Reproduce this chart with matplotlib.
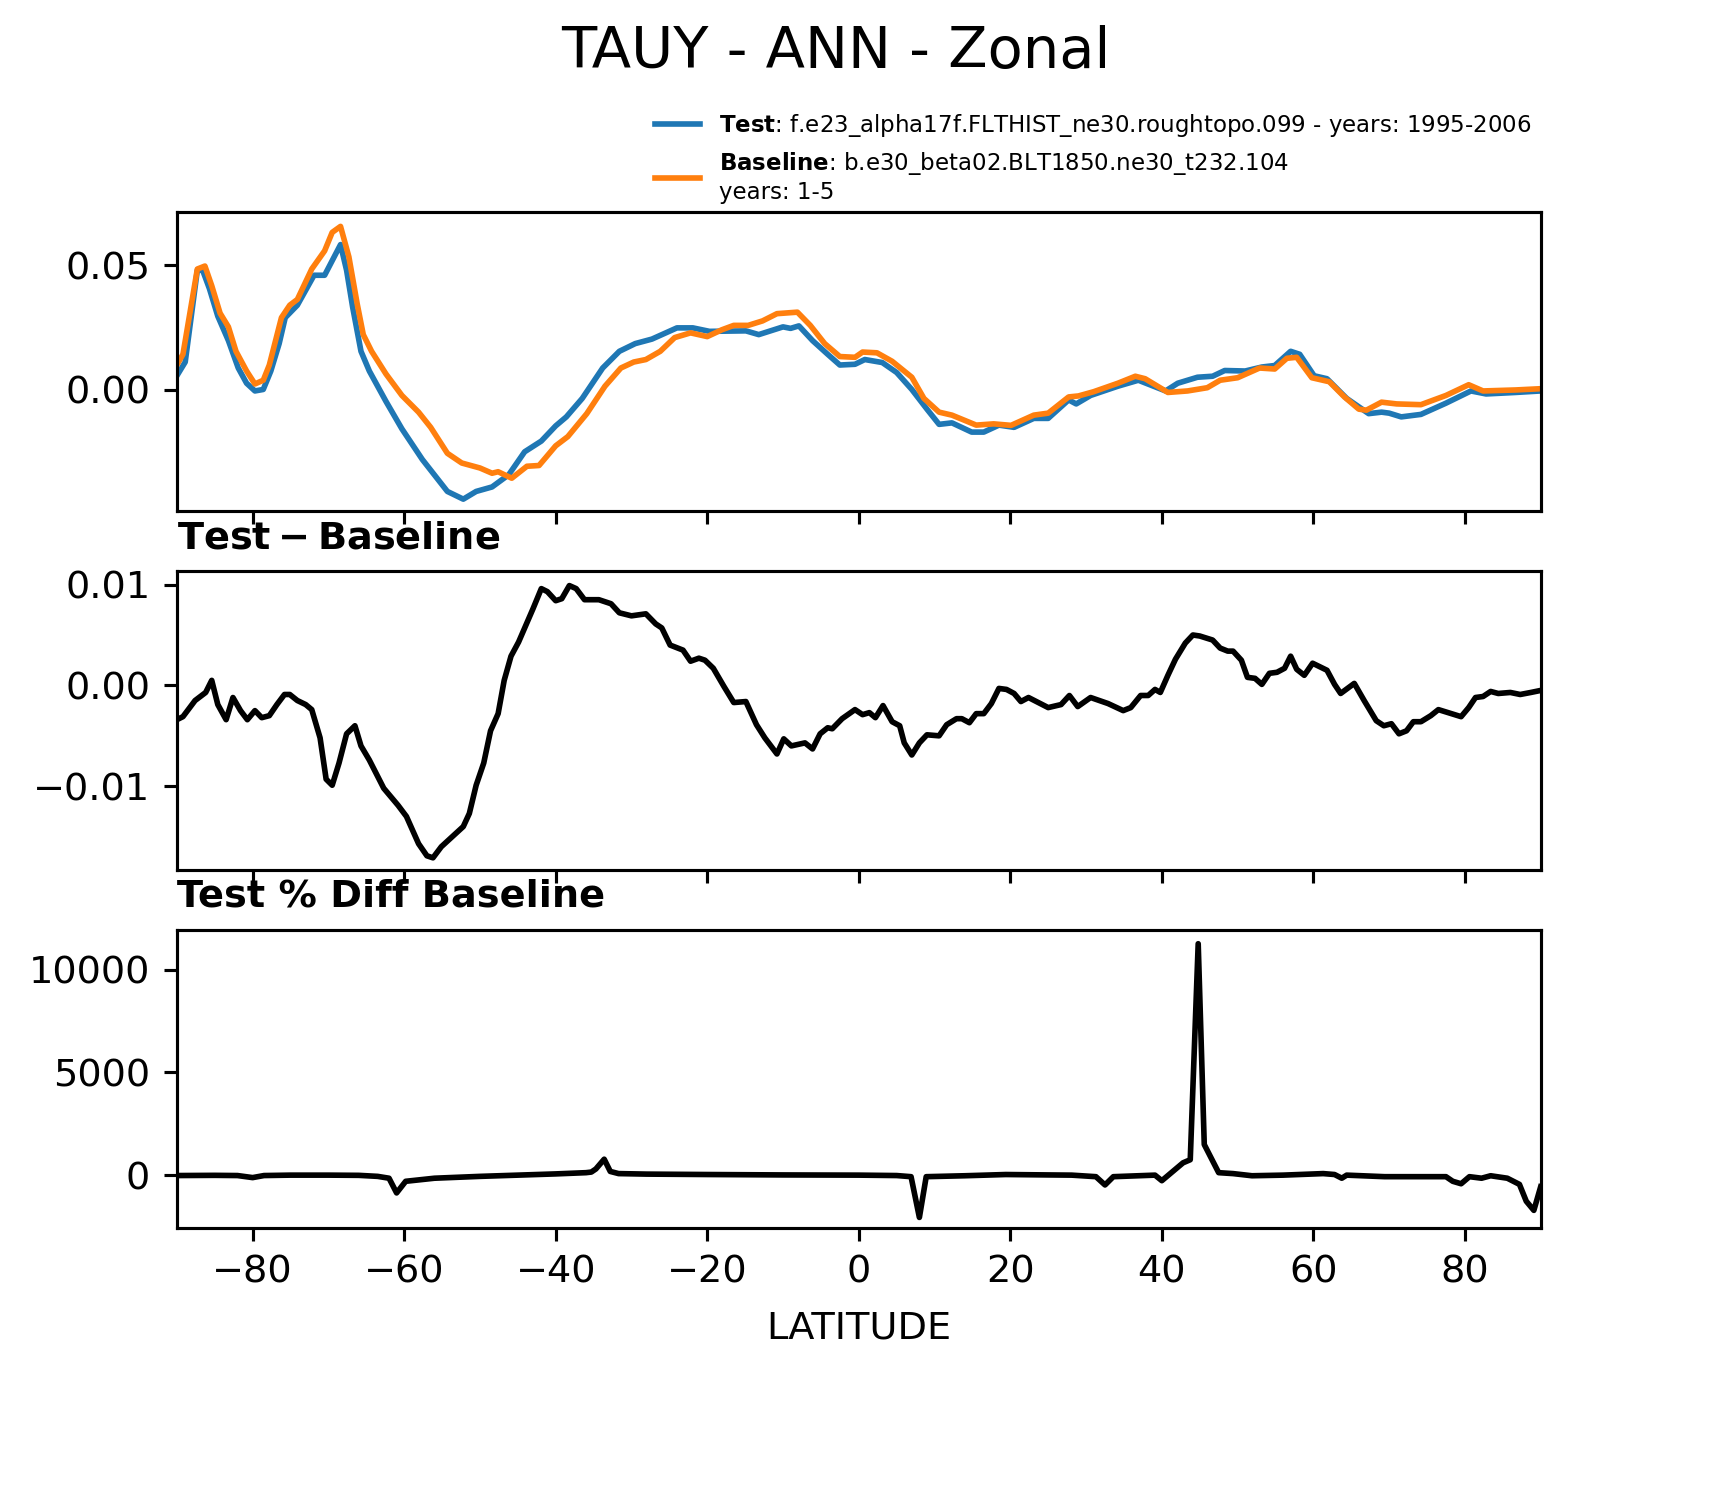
import matplotlib
matplotlib.use("Agg")
import matplotlib.pyplot as plt
from matplotlib.ticker import MultipleLocator, FixedLocator

# ---------------- data ----------------
lat_test = [-90, -88.9, -87.3, -86.6, -85.7, -84.6, -83.2, -81.9, -80.8, -79.7, -78.6, -77.6,
            -76.5, -75.7, -74.1, -71.9, -70.5, -68.4, -67.6, -66.8, -65.7, -64.6, -62.4, -60.3,
            -57.6, -54.3, -52.2, -50.5, -48.4, -46.2, -44.1, -41.9, -40, -38.6, -36.5, -33.8,
            -31.6, -29.5, -27.3, -24, -21.9, -19.7, -14.9, -13.2, -10, -9, -7.9, -6.1, -4.1,
            -2.5, -0.5, 0.8, 3.1, 5.0, 7.0, 9.0, 10.6, 12.3, 14.9, 16.5, 18.5, 20.5, 23.1, 25.0,
            27.7, 28.7, 30.6, 34.2, 36.9, 40.5, 42.1, 44.7, 46.7, 48.3, 51.0, 53.2, 54.9, 57.0,
            58.2, 60.1, 61.8, 64.4, 67.3, 69.0, 70.0, 71.6, 74.2, 77.5, 80.8, 82.8, 86.7, 90]
test_vals = [0.0057, 0.0112, 0.048, 0.048, 0.0406, 0.0296, 0.0198, 0.0088, 0.0027, -0.0004, 0.0002,
             0.0076, 0.0186, 0.029, 0.034, 0.046, 0.046, 0.0583, 0.048, 0.0332, 0.0155, 0.0076,
             -0.0046, -0.0156, -0.0279, -0.0407, -0.0438, -0.0407, -0.0389, -0.034, -0.0248,
             -0.0205, -0.0144, -0.0108, -0.0034, 0.0088, 0.0155, 0.0186, 0.0204, 0.0249, 0.0249,
             0.0235, 0.0237, 0.0222, 0.0253, 0.0247, 0.0257, 0.0198, 0.0143, 0.0100, 0.0103,
             0.0122, 0.0110, 0.0070, 0.0002, -0.0077, -0.0138, -0.0132, -0.0169, -0.0169, -0.0141,
             -0.0150, -0.0114, -0.0114, -0.0040, -0.0056, -0.0022, 0.0015, 0.0039, -0.0004,
             0.0027, 0.0051, 0.0055, 0.0078, 0.0076, 0.0092, 0.0098, 0.0155, 0.0143, 0.0057,
             0.0045, -0.0034, -0.0095, -0.0089, -0.0093, -0.0108, -0.0098, -0.0053, -0.0004,
             -0.0016, -0.0010, -0.0004]

lat_base = [-90, -89.2, -87.3, -86.3, -85.4, -84.3, -83.2, -82.2, -80.8, -79.7, -78.6, -77.8,
            -76.2, -75.1, -74.1, -72.2, -70.5, -69.5, -68.4, -67.3, -66.2, -65.4, -64.3, -62.4,
            -60.3, -58.1, -56.5, -54.3, -52.4, -50, -48.4, -47.6, -45.8, -43.8, -42.2, -40,
            -38.4, -35.9, -33.5, -31.4, -29.7, -28.1, -26.2, -24.3, -22.2, -20, -18.1, -16.5,
            -14.6, -12.7, -10.8, -8.1, -6.4, -4.5, -2.5, -0.5, 0.5, 2.4, 4.4, 7.0, 8.6, 10.6,
            12.3, 15.5, 17.8, 20.1, 23.1, 25.0, 27.7, 29.0, 31.0, 34.2, 36.5, 37.8, 40.8, 43.4,
            46.0, 47.7, 50, 52.9, 54.9, 56.5, 57.8, 59.8, 62.1, 64.1, 66.0, 67.0, 69.0, 71,
            74.2, 77.5, 80.5, 82.4, 86.7, 90]
base_vals = [0.0100, 0.0143, 0.0485, 0.0497, 0.0418, 0.0308, 0.0253, 0.0155, 0.0076, 0.0024,
             0.0039, 0.0100, 0.0290, 0.0340, 0.0363, 0.0485, 0.0558, 0.0632, 0.0656, 0.0534,
             0.0345, 0.0222, 0.0155, 0.0064, -0.0022, -0.0089, -0.0150, -0.0254, -0.0293,
             -0.0313, -0.0334, -0.0328, -0.0354, -0.0306, -0.0303, -0.0224, -0.0187, -0.0095,
             0.0015, 0.0088, 0.0112, 0.0122, 0.0155, 0.0210, 0.0229, 0.0214, 0.0241, 0.0259,
             0.0259, 0.0277, 0.0306, 0.0312, 0.0259, 0.0186, 0.0134, 0.0131, 0.0152, 0.0149,
             0.0115, 0.0051, -0.0034, -0.0089, -0.0101, -0.0141, -0.0136, -0.0142, -0.0101,
             -0.0093, -0.0028, -0.0024, -0.0007, 0.0027, 0.0055, 0.0045, -0.0010, -0.0004,
             0.0009, 0.0039, 0.0049, 0.0088, 0.0084, 0.0127, 0.0131, 0.0049, 0.0033, -0.0028,
             -0.0077, -0.0081, -0.0049, -0.0056, -0.0059, -0.0022, 0.0021, -0.0004, 0.0000,
             0.0005]

lat_diff = [-90, -89.2, -87.6, -86.2, -85.4, -84.6, -83.5, -82.6, -81.6, -80.7, -79.7, -78.8,
            -77.8, -76.8, -75.8, -75.1, -74.1, -73, -72.2, -71.1, -70.3, -69.5, -68.6, -67.6,
            -66.5, -65.7, -64.6, -62.7, -60.8, -59.7, -58.1, -57.0, -56.2, -55.1, -53.8, -52.2,
            -51.4, -50.5, -49.5, -48.6, -47.6, -46.8, -45.9, -44.9, -43, -41.9, -41.1, -40,
            -39.2, -38.2, -37.3, -36.2, -34.3, -32.7, -31.6, -30, -28.1, -26.8, -26, -24.9,
            -23.2, -22.2, -21.1, -20.3, -19.2, -17.8, -16.5, -14.9, -13.5, -12.4, -10.8, -9.9,
            -8.9, -7.1, -6.1, -5.1, -4.1, -3.5, -2.2, -0.5, 0.5, 1.4, 2.2, 3.2, 4.4, 5.4, 6.0,
            7.0, 8.0, 9.0, 10.6, 11.6, 12.9, 13.6, 14.6, 15.5, 16.5, 17.5, 18.5, 19.5, 20.5,
            21.4, 22.4, 25.0, 26.7, 27.8, 28.9, 30.6, 32.9, 34.9, 35.9, 37.2, 38.2, 39.1, 39.8,
            40.8, 41.8, 43.1, 44.1, 45.0, 46.7, 47.7, 48.7, 49.4, 50.5, 51.3, 52.3, 53.2, 54.2,
            55.2, 56.2, 57.0, 57.8, 58.8, 59.9, 61.8, 62.8, 63.6, 65.4, 66.7, 68.3, 69.3, 70.3,
            71.3, 72.3, 73.2, 74.2, 75.5, 76.5, 77.8, 79.5, 80.5, 81.4, 82.4, 83.4, 84.4, 86.0,
            87.3, 88.7, 90]
diff_vals = [-0.0034, -0.0031, -0.0015, -0.0007, 0.0005, -0.0019, -0.0034, -0.0012, -0.0025,
             -0.0034, -0.0025, -0.0032, -0.0030, -0.0019, -0.0009, -0.0009, -0.0015, -0.0019,
             -0.0024, -0.0052, -0.0093, -0.0099, -0.0077, -0.0048, -0.0040, -0.0060, -0.0074,
             -0.0102, -0.0119, -0.0130, -0.0157, -0.0169, -0.0171, -0.0160, -0.0151, -0.0140,
             -0.0127, -0.0099, -0.0077, -0.0045, -0.0028, 0.0005, 0.0029, 0.0043, 0.0076,
             0.0096, 0.0093, 0.0084, 0.0086, 0.0099, 0.0096, 0.0085, 0.0085, 0.0081, 0.0072,
             0.0069, 0.0071, 0.0061, 0.0057, 0.0040, 0.0035, 0.0024, 0.0027, 0.0025, 0.0017,
             -0.0001, -0.0017, -0.0016, -0.0039, -0.0052, -0.0068, -0.0053, -0.0060, -0.0057,
             -0.0063, -0.0048, -0.0042, -0.0043, -0.0033, -0.0024, -0.0029, -0.0027, -0.0032,
             -0.0020, -0.0036, -0.0040, -0.0057, -0.0069, -0.0057, -0.0049, -0.0050, -0.0039,
             -0.0033, -0.0033, -0.0037, -0.0028, -0.0028, -0.0018, -0.0003, -0.0004, -0.0008,
             -0.0016, -0.0012, -0.0022, -0.0019, -0.0010, -0.0021, -0.0012, -0.0018, -0.0025,
             -0.0022, -0.0010, -0.0010, -0.0004, -0.0007, 0.0010, 0.0026, 0.0042, 0.0050,
             0.0049, 0.0045, 0.0037, 0.0034, 0.0034, 0.0025, 0.0008, 0.0007, 0.0001, 0.0012,
             0.0013, 0.0017, 0.0029, 0.0016, 0.0010, 0.0022, 0.0015, 0.0001, -0.0008, 0.0002,
             -0.0015, -0.0035, -0.0040, -0.0038, -0.0048, -0.0045, -0.0036, -0.0036, -0.0030,
             -0.0024, -0.0027, -0.0031, -0.0022, -0.0012, -0.0011, -0.0006, -0.0008, -0.0007,
             -0.0009, -0.0007, -0.0005]

lat_pct = [-90, -85, -82, -80, -78.5, -75, -70, -66, -63.5, -62, -61, -59.8, -56, -50, -45, -40,
           -36, -35.3, -34.7, -33.6, -32.8, -31.7, -28, -20, -10, 0, 5, 6.9, 8.0, 8.9, 14, 19.4,
           25, 28.1, 31.3, 32.5, 33.6, 39.1, 40, 42.8, 43.75, 44.8, 45.6, 47.5, 49.4, 51.9, 56,
           61.3, 62.8, 63.75, 64.4, 69.4, 77.5, 78.4, 79.5, 80.6, 82.2, 83.4, 85.6, 87.2, 88.1,
           89.1, 90]
pct_vals = [-20, -10, -20, -120, -20, 0, 0, -10, -60, -150, -866, -300, -150, -60, 0, 60, 120,
            150, 300, 776, 180, 75, 50, 30, 10, 0, -20, -75, -2060, -75, -30, 30, 10, 0, -75,
            -478, -75, 0, -270, 600, 750, 11270, 1490, 120, 75, -30, 0, 75, 30, -150, 0, -75,
            -75, -300, -420, -75, -150, -30, -150, -450, -1270, -1716, -567]

xticks = [-80, -60, -40, -20, 0, 20, 40, 60, 80]
test_label = r"$\bf{Test}$: f.e23_alpha17f.FLTHIST_ne30.roughtopo.099 - years: 1995-2006"
base_label = r"$\bf{Baseline}$: b.e30_beta02.BLT1850.ne30_t232.104" + "\nyears: 1-5"

# ---------------- figure ----------------
fs = 9.2
fig = plt.figure(figsize=(1709 / 300, 1496 / 300), dpi=300)
L, W = 0.1035, 0.798
ax1 = fig.add_axes([L, 0.6585, W, 0.1995])
ax2 = fig.add_axes([L, 0.4185, W, 0.1995])
ax3 = fig.add_axes([L, 0.179, W, 0.1995])

lw = 1.35
ax1.plot(lat_test, test_vals, color="#1f77b4", lw=lw, label=test_label)
ax1.plot(lat_base, base_vals, color="#ff7f0e", lw=lw, label=base_label)
ax1.set_ylim(-0.0485, 0.0712)
ax1.yaxis.set_major_locator(MultipleLocator(0.05))

ax2.plot(lat_diff, diff_vals, color="black", lw=lw)
ax2.set_ylim(-0.0183, 0.0113)
ax2.yaxis.set_major_locator(MultipleLocator(0.01))
ax2.set_title(r"$\bf{Test - Baseline}$", loc="left", fontsize=fs, pad=5.5)

ax3.plot(lat_pct, pct_vals, color="black", lw=lw)
ax3.set_ylim(-2585, 11950)
ax3.yaxis.set_major_locator(MultipleLocator(5000))
ax3.set_title("Test % Diff Baseline", loc="left", fontsize=fs, fontweight="bold", pad=5.5)
ax3.set_xlabel("LATITUDE", fontsize=fs, labelpad=4.6)

for ax in (ax1, ax2, ax3):
    ax.set_xlim(-90, 90)
    ax.xaxis.set_major_locator(FixedLocator(xticks))
    ax.tick_params(labelsize=fs, length=3.2, width=0.75, pad=3.2)
    for s in ax.spines.values():
        s.set_linewidth(0.75)
for ax in (ax1, ax2):
    ax.tick_params(labelbottom=False)

fig.suptitle("TAUY - ANN - Zonal", fontsize=13.8, x=0.489, y=0.965, va="center")
fig.legend(loc="upper right", bbox_to_anchor=(0.908, 0.939), frameon=False, fontsize=5.5)

fig.savefig("out.png", dpi=300)
